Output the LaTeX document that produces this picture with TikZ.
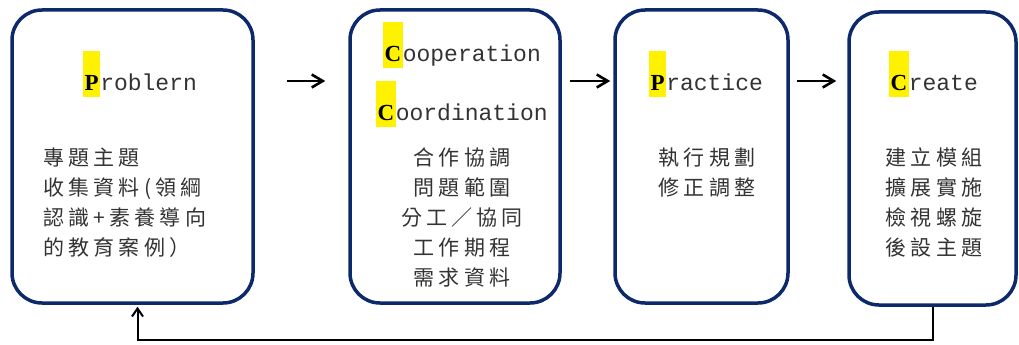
\documentclass[tikz,border=0pt]{standalone}
\usepackage{fontspec}
\usetikzlibrary{arrows.meta}

\newfontfamily\cjk[LetterSpace=20]{Noto Sans CJK TC}
\newfontfamily\ttlfont{Liberation Mono}
\newfontfamily\inifont{Liberation Serif}
\definecolor{boxblue}{HTML}{0C2A6B}

% yellow marked first letter
\newcommand{\ini}[1]{{\setlength{\fboxsep}{0pt}\colorbox{yellow}{\rule[-7pt]{0pt}{46pt}\hspace{1.5pt}{\inifont\bfseries\color{black}#1}\hspace{1.5pt}}}}

\begin{document}
\begin{tikzpicture}[x=1pt,y=-1pt,
	box/.style={draw=boxblue, line width=3.5pt, rounded corners=30pt, inner sep=0pt, minimum height=293pt},
	ttl/.style={anchor=base west, inner sep=0pt, text=black!80, font=\ttlfont\fontsize{23}{23}\selectfont},
	body/.style={anchor=north, inner sep=0pt, align=center, text=black!80, font=\cjk\fontsize{21}{30}\selectfont},
	flow/.style={line width=2.6pt, -{Straight Barb[length=11pt,width=13pt,line width=2.6pt]}},
	back/.style={line width=2pt, -{Straight Barb[length=8pt,width=11pt,line width=2pt]}}]
	\useasboundingbox (0,0) rectangle (1019,345);
	% the four stages
	\node[box, minimum width=241pt] (prob) at (132.5,156.5) {};
	\node[box, minimum width=210pt] (coop) at (455,156.5) {};
	\node[box, minimum width=173pt] (prac) at (701.5,156.5) {};
	\node[box, minimum width=167pt] (crea) at (932.5,158.5) {};
	% titles
	\node[ttl] (tprob) at (83,90) {\ini{P}roblern};
	\node[ttl] (tcoop) at (383,61) {\ini{C}ooperation};
	\node[ttl] (tcoor) at (376,120) {\ini{C}oordination};
	\node[ttl] (tprac) at (649,90) {\ini{P}ractice};
	\node[ttl] (tcrea) at (889,90) {\ini{C}reate};
	% contents
	\node[body, anchor=north west, align=left] (bprob) at (43,148) {專題主題\\收集資料(領綱\\認識+素養導向\\的教育案例）};
	\node[body] (bcoop) at (462,148) {合作協調\\問題範圍\\分工／協同\\工作期程\\需求資料};
	\node[body] (bprac) at (707,148) {執行規劃\\修正調整};
	\node[body] (bcrea) at (934,148) {建立模組\\擴展實施\\檢視螺旋\\後設主題};
	% connectors
	\coordinate (lvl) at (0,81);
	\coordinate (loop) at (0,340);
	\draw[flow, shorten <=32pt, shorten >=23pt] (prob.east |- lvl) -- (coop.west |- lvl);
	\draw[flow, shorten <=8pt, shorten >=3pt] (coop.east |- lvl) -- (prac.west |- lvl);
	\draw[flow, shorten <=7pt, shorten >=11pt] (prac.east |- lvl) -- (crea.west |- lvl);
	\draw[back] (crea.south) -- (crea.south |- loop) -- ([xshift=5pt]prob.south |- loop) -- ([xshift=5pt,yshift=-2pt]prob.south);
\end{tikzpicture}
\end{document}
